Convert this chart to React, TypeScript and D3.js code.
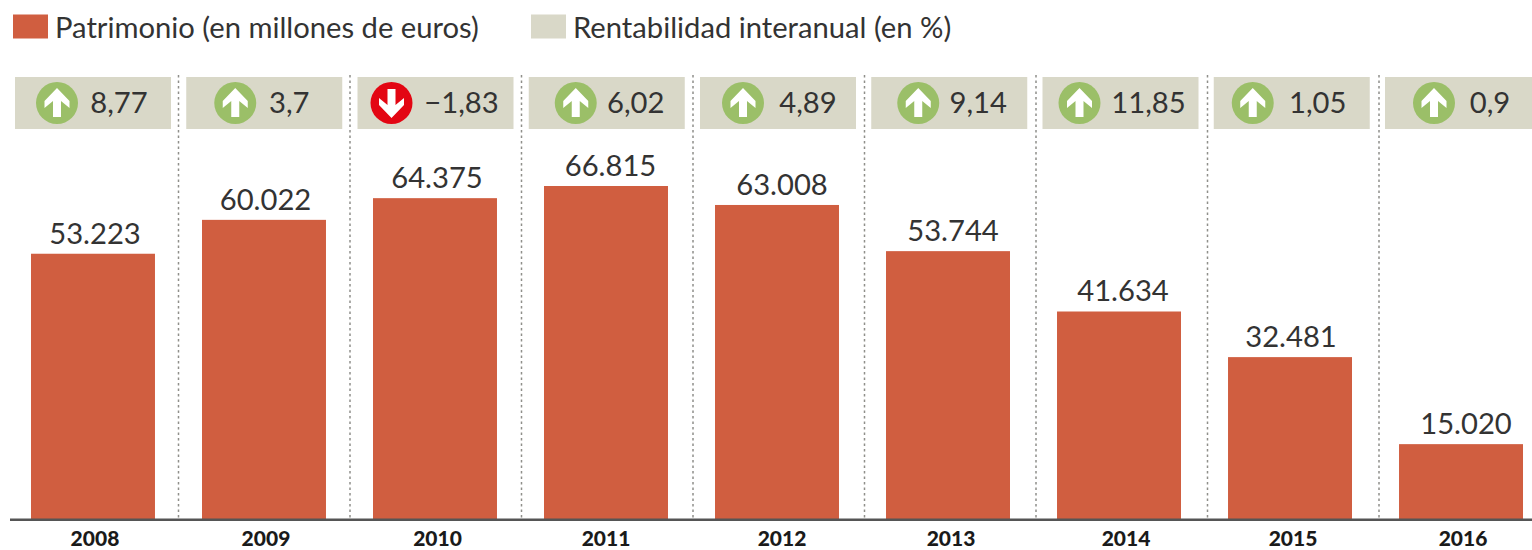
import React from "react";
import * as d3 from "d3";

const years = ["2008", "2009", "2010", "2011", "2012", "2013", "2014", "2015", "2016"];
const patrimonio = [53223, 60022, 64375, 66815, 63008, 53744, 41634, 32481, 15020];
const rentabilidad = [8.77, 3.7, -1.83, 6.02, 4.89, 9.14, 11.85, 1.05, 0.9];
const rentabilidadLabels = ["8,77", "3,7", "−1,83", "6,02", "4,89", "9,14", "11,85", "1,05", "0,9"];
const patrimonioLabels = ["53.223", "60.022", "64.375", "66.815", "63.008", "53.744", "41.634", "32.481", "15.020"];

const width = 1532, height = 550;
const baseY = 519;
const font = "Lato, sans-serif";

const orange = "#d05e40";
const khaki = "#d9d8c8";
const green = "#9bbf68";
const red = "#e30613";
const ink = "#333333";

// the original was laid out by hand, so the text sits a bit differently in each column
const iconOffset = [42, 49, 34, 47, 43, 47, 37, 39, 49];
const badgeTextOffset = [104, 103, 104, 107, 108, 107, 106, 104, 105];
const valueNudge = [2, 1.5, 2, 4.5, 5, 5, 4, 1, 5];
const yearNudge = [2, 2, 2.5, 0, 5, 3, 7, 3, 2];

// scales
const x = d3.scaleBand<string>()
  .domain(years)
  .range([7.5, 1546.5])
  .paddingInner(0.275)
  .paddingOuter(0.1374);
const y = d3.scaleLinear().domain([0, 66815]).range([baseY, 186]);
const boxX = d3.scalePoint<string>().domain(years).range([15, 1385]);
const sepX = d3.scalePoint<string>().domain(years.slice(1)).range([178.5, 1379]);

const arrowPath = "M0,-15 L12.5,-2 L12.5,5 L4,-2 L4,14 L-4,14 L-4,-2 L-12.5,5 L-12.5,-2 Z";

const App = () => {
  return (
    <svg width={width} height={height} style={{ position: "absolute", left: 0, top: 0, background: "#fff" }} fontFamily={font}>
      {/* legend */}
      <rect x={13} y={14.5} width={35} height={24} fill={orange} />
      <text x={55} y={38} fontSize={29.2} fill={ink}>Patrimonio (en millones de euros)</text>
      <rect x={531} y={14.5} width={35} height={24} fill={khaki} />
      <text x={573} y={38} fontSize={29.2} fill={ink}>Rentabilidad interanual (en %)</text>

      {/* dotted separators */}
      {years.slice(1).map(d => (
        <line key={d} x1={sepX(d)} x2={sepX(d)} y1={75} y2={baseY} stroke="#8f8f8a" strokeWidth={1.5} strokeDasharray="2.5 3" />
      ))}

      {years.map((d, i) => {
        const bx = x(d)!;
        const cx = bx + x.bandwidth() / 2;
        const up = rentabilidad[i] >= 0;
        const box = boxX(d)!;
        const iconX = box + iconOffset[i];
        return (
          <g key={d}>
            <rect x={box} y={77} width={156} height={52} fill={khaki} />
            <circle cx={iconX} cy={103} r={21} fill={up ? green : red} />
            <path d={arrowPath} fill="#fff" transform={`translate(${iconX},103) scale(1,${up ? 1 : -1})`} />
            <text x={box + badgeTextOffset[i]} y={113} fontSize={29.2} textAnchor="middle" fill={ink}>{rentabilidadLabels[i]}</text>
            <rect x={bx} y={y(patrimonio[i])} width={x.bandwidth()} height={baseY - y(patrimonio[i])} fill={orange} />
            <text x={cx + valueNudge[i]} y={y(patrimonio[i]) - 10} fontSize={29.2} textAnchor="middle" fill={ink}>{patrimonioLabels[i]}</text>
            <text x={cx + yearNudge[i]} y={546} fontSize={21} fontWeight={900} textAnchor="middle" fill="#1a1a1a">{d}</text>
          </g>
        );
      })}

      {/* baseline */}
      <line x1={10} x2={width} y1={519.7} y2={519.7} stroke="#555" strokeWidth={2.5} />
    </svg>
  );
};

export default App;
